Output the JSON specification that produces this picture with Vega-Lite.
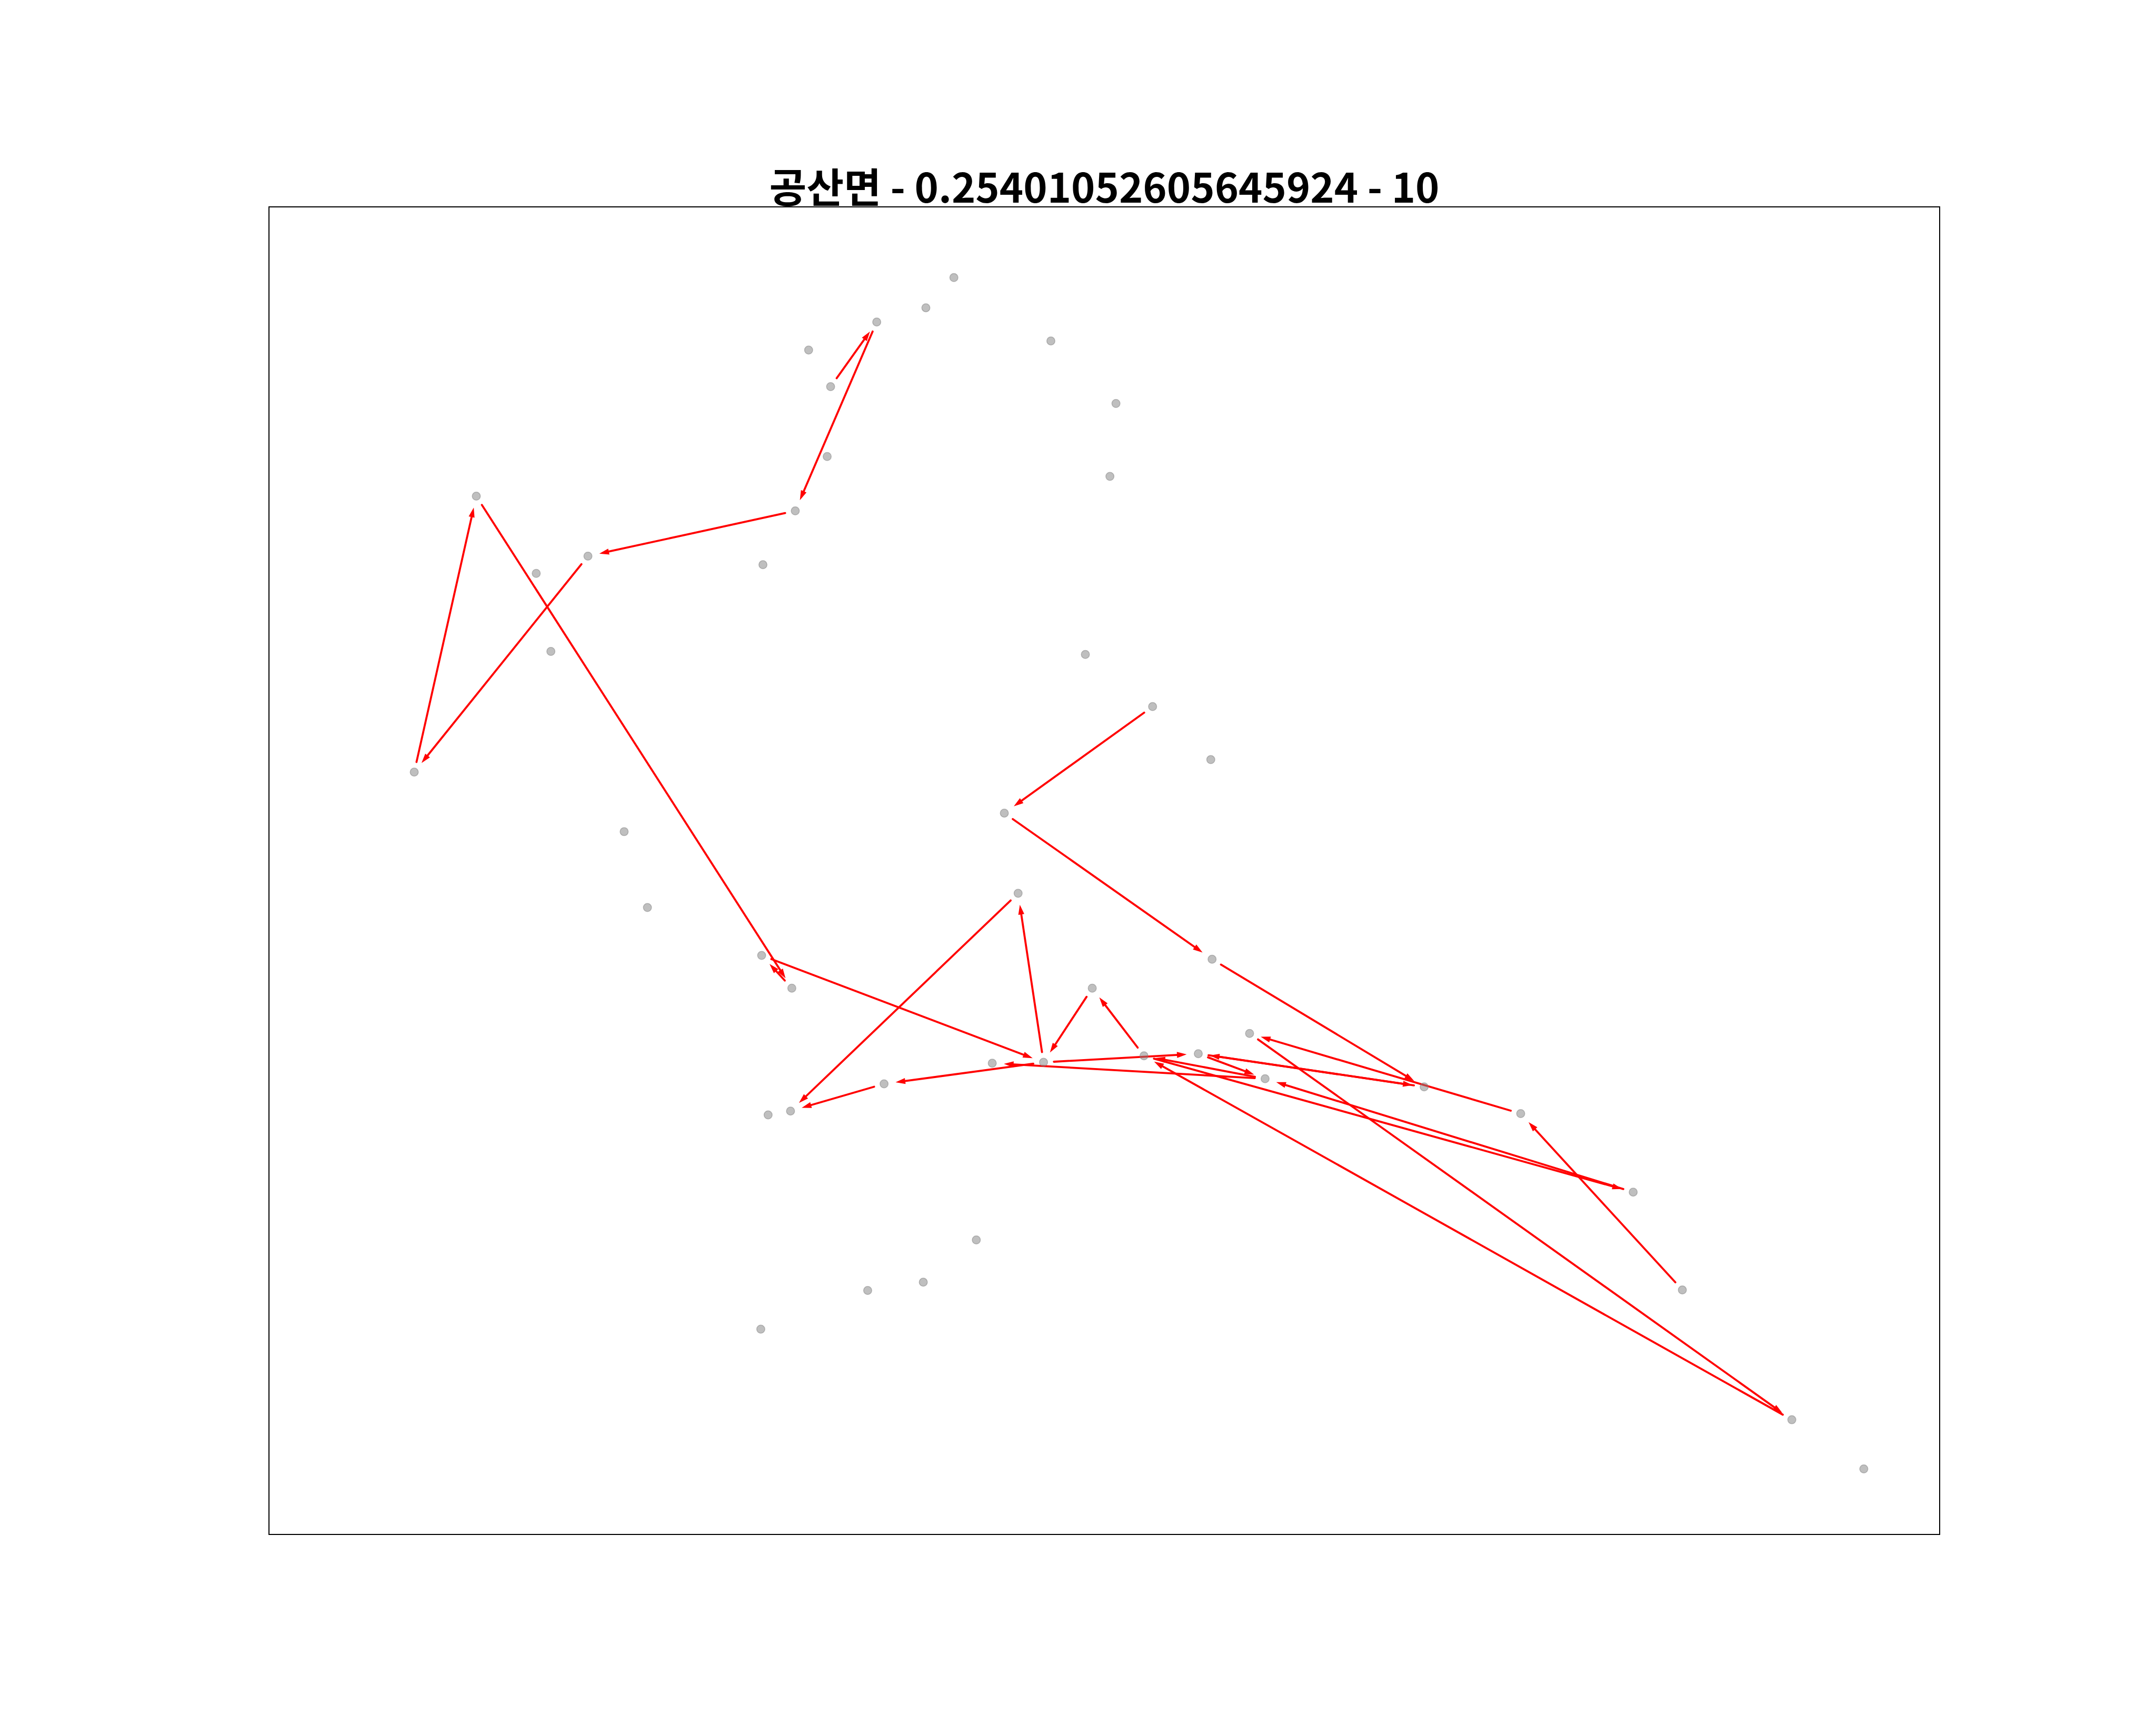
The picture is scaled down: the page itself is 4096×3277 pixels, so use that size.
{
  "$schema": "https://vega.github.io/schema/vega-lite/v6.json",
  "width": 3174,
  "height": 2522,
  "autosize": {"type": "none"},
  "padding": {"left": 511, "top": 393, "right": 411, "bottom": 362},
  "background": "white",
  "title": {
    "text": "공산면 - 0.25401052605645924 - 10",
    "font": "Noto Sans CJK KR",
    "fontSize": 77,
    "fontWeight": "bold",
    "color": "black",
    "offset": -69,
    "baseline": "alphabetic",
    "anchor": "middle"
  },
  "config": {"view": {"stroke": "black", "strokeWidth": 2}},
  "datasets": {
    "points": [
      {"x": 1589, "y": 2915}, {"x": 1524, "y": 2845}, {"x": 1410, "y": 2812}, {"x": 1252, "y": 2747},
      {"x": 1814, "y": 2768}, {"x": 1303, "y": 2662}, {"x": 1965, "y": 2623}, {"x": 1295, "y": 2500},
      {"x": 1951, "y": 2454}, {"x": 481, "y": 2408}, {"x": 1221, "y": 2374}, {"x": 740, "y": 2269},
      {"x": 620, "y": 2229}, {"x": 1146, "y": 2249}, {"x": 654, "y": 2048}, {"x": 1894, "y": 2041},
      {"x": 2050, "y": 1920}, {"x": 2185, "y": 1797}, {"x": 337, "y": 1768}, {"x": 1706, "y": 1673},
      {"x": 824, "y": 1630}, {"x": 878, "y": 1454}, {"x": 1738, "y": 1487}, {"x": 1143, "y": 1343},
      {"x": 2188, "y": 1334}, {"x": 1213, "y": 1267}, {"x": 1910, "y": 1267}, {"x": 2275, "y": 1162},
      {"x": 1678, "y": 1093}, {"x": 1797, "y": 1095}, {"x": 2030, "y": 1110}, {"x": 2156, "y": 1115},
      {"x": 2311, "y": 1057}, {"x": 2680, "y": 1038}, {"x": 1427, "y": 1045}, {"x": 1210, "y": 982},
      {"x": 1158, "y": 973}, {"x": 2904, "y": 976}, {"x": 3165, "y": 794}, {"x": 1641, "y": 683},
      {"x": 1518, "y": 585}, {"x": 1389, "y": 566}, {"x": 1141, "y": 476}, {"x": 3279, "y": 567},
      {"x": 3533, "y": 266}, {"x": 3700, "y": 152}
    ],
    "arrows": [
      {"x1": 1303, "y1": 2662, "x2": 1410, "y2": 2812},
      {"x1": 1410, "y1": 2812, "x2": 1221, "y2": 2374},
      {"x1": 1221, "y1": 2374, "x2": 740, "y2": 2269},
      {"x1": 740, "y1": 2269, "x2": 337, "y2": 1768},
      {"x1": 337, "y1": 1768, "x2": 481, "y2": 2408},
      {"x1": 481, "y1": 2408, "x2": 1213, "y2": 1267},
      {"x1": 1213, "y1": 1267, "x2": 1143, "y2": 1343},
      {"x1": 1143, "y1": 1343, "x2": 1797, "y2": 1095},
      {"x1": 1797, "y1": 1095, "x2": 1738, "y2": 1487},
      {"x1": 1738, "y1": 1487, "x2": 1210, "y2": 982},
      {"x1": 1427, "y1": 1045, "x2": 1210, "y2": 982},
      {"x1": 1797, "y1": 1095, "x2": 1427, "y2": 1045},
      {"x1": 2311, "y1": 1057, "x2": 1678, "y2": 1093},
      {"x1": 1910, "y1": 1267, "x2": 1797, "y2": 1095},
      {"x1": 2030, "y1": 1110, "x2": 1910, "y2": 1267},
      {"x1": 1797, "y1": 1095, "x2": 2156, "y2": 1115},
      {"x1": 2050, "y1": 1920, "x2": 1706, "y2": 1673},
      {"x1": 1706, "y1": 1673, "x2": 2188, "y2": 1334},
      {"x1": 2188, "y1": 1334, "x2": 2680, "y2": 1038},
      {"x1": 2156, "y1": 1115, "x2": 2680, "y2": 1038},
      {"x1": 2680, "y1": 1038, "x2": 2156, "y2": 1115},
      {"x1": 2156, "y1": 1115, "x2": 2311, "y2": 1057},
      {"x1": 2311, "y1": 1057, "x2": 2030, "y2": 1110},
      {"x1": 2904, "y1": 976, "x2": 2275, "y2": 1162},
      {"x1": 2275, "y1": 1162, "x2": 3533, "y2": 266},
      {"x1": 3533, "y1": 266, "x2": 2030, "y2": 1110},
      {"x1": 2030, "y1": 1110, "x2": 3165, "y2": 794},
      {"x1": 3165, "y1": 794, "x2": 2311, "y2": 1057},
      {"x1": 3279, "y1": 567, "x2": 2904, "y2": 976}
    ]
  },
  "layer": [
    {
      "data": {"name": "arrows"},
      "transform": [
        {"calculate": "datum.x2 - datum.x1", "as": "dx"},
        {"calculate": "datum.y2 - datum.y1", "as": "dy"},
        {"calculate": "sqrt(datum.dx * datum.dx + datum.dy * datum.dy)", "as": "len"},
        {"calculate": "datum.x1 + 24 * datum.dx / datum.len", "as": "xs"},
        {"calculate": "datum.y1 + 24 * datum.dy / datum.len", "as": "ys"},
        {"calculate": "datum.x2 - 40 * datum.dx / datum.len", "as": "xl"},
        {"calculate": "datum.y2 - 40 * datum.dy / datum.len", "as": "yl"}
      ],
      "mark": {"type": "rule", "color": "#ff0000", "strokeWidth": 3.8, "strokeCap": "round"},
      "encoding": {
        "x": {"field": "xs", "type": "quantitative", "scale": {"domain": [0, 3876], "nice": false, "zero": false}, "axis": null},
        "y": {"field": "ys", "type": "quantitative", "scale": {"domain": [0, 3079], "nice": false, "zero": false}, "axis": null},
        "x2": {"field": "xl"},
        "y2": {"field": "yl"}
      }
    },
    {
      "data": {"name": "arrows"},
      "transform": [
        {"calculate": "datum.x2 - datum.x1", "as": "dx"},
        {"calculate": "datum.y2 - datum.y1", "as": "dy"},
        {"calculate": "sqrt(datum.dx * datum.dx + datum.dy * datum.dy)", "as": "len"},
        {"calculate": "datum.x2 - 27 * datum.dx / datum.len", "as": "xe"},
        {"calculate": "datum.y2 - 27 * datum.dy / datum.len", "as": "ye"},
        {"calculate": "atan2(datum.dx, datum.dy) * 180 / PI", "as": "ang"}
      ],
      "mark": {"type": "point", "shape": "M0,0L0.62,2L-0.62,2Z", "filled": true, "fill": "#ff0000", "fillOpacity": 1, "strokeWidth": 0, "size": 340},
      "encoding": {
        "x": {"field": "xe", "type": "quantitative", "scale": {"domain": [0, 3876], "nice": false, "zero": false}, "axis": null},
        "y": {"field": "ye", "type": "quantitative", "scale": {"domain": [0, 3079], "nice": false, "zero": false}, "axis": null},
        "angle": {"field": "ang", "type": "quantitative", "scale": null}
      }
    },
    {
      "data": {"name": "points"},
      "mark": {"type": "point", "shape": "circle", "filled": true, "fill": "#808080", "fillOpacity": 0.5, "stroke": "#808080", "strokeOpacity": 0.5, "strokeWidth": 1.5, "size": 240},
      "encoding": {
        "x": {"field": "x", "type": "quantitative", "scale": {"domain": [0, 3876], "nice": false, "zero": false}, "axis": null},
        "y": {"field": "y", "type": "quantitative", "scale": {"domain": [0, 3079], "nice": false, "zero": false}, "axis": null}
      }
    }
  ]
}
